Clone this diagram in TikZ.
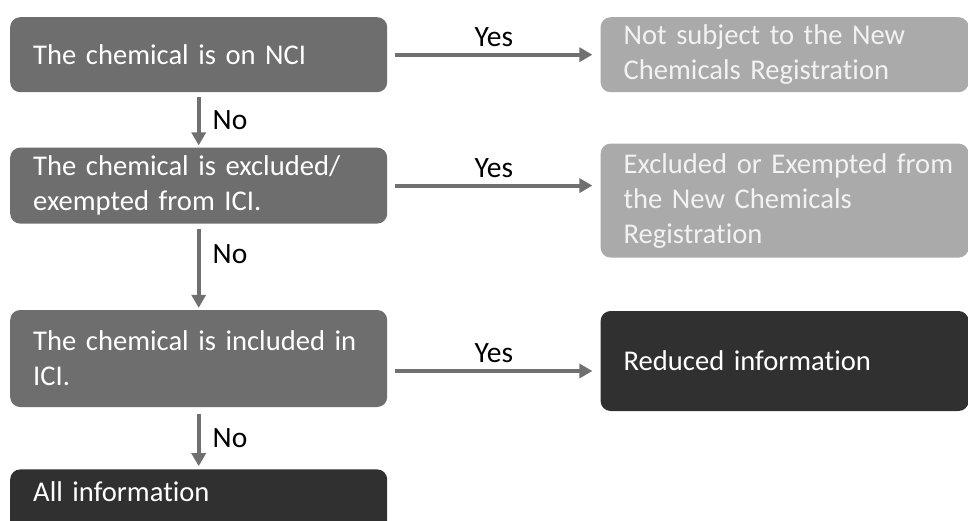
\documentclass[tikz,border=0pt]{standalone}
\usepackage{fontspec}
\setmainfont{Carlito}[Ligatures=NoCommon]
\usetikzlibrary{positioning,arrows.meta}
\definecolor{boxmid}{HTML}{6E6E6E}
\definecolor{boxlight}{HTML}{AAAAAA}
\definecolor{boxdark}{HTML}{303030}
\definecolor{arrowgray}{HTML}{707070}

\begin{document}
\begin{tikzpicture}[x=1pt,y=-1pt,
  box/.style={rectangle,rounded corners=10pt,text=white,align=left,text width=331pt,inner xsep=23pt,inner ysep=0pt,font=\fontsize{28.6}{35}\selectfont},
  midbox/.style={box,fill=boxmid},
  lightbox/.style={box,fill=boxlight,text=white!95!black,text width=322pt},
  darkbox/.style={box,fill=boxdark},
  flow/.style={draw=arrowgray,line width=4pt,-{Triangle[length=13pt,width=14pt]}},
  lbl/.style={font=\fontsize{29.5}{34}\selectfont,inner sep=0pt}]
  \clip (0,0) rectangle (968,520);
  \node (nci) [midbox,minimum height=75pt,anchor=north west] at (10,17) {The chemical is on NCI};
  \node (excl) [midbox,minimum height=76pt,below=55pt of nci] {The chemical is excluded/\\exempted from ICI.};
  \node (incl) [midbox,minimum height=97pt,below=86pt of excl] {\mbox{The chemical is included in}\\ICI.};
  \node (allinfo) [darkbox,inner ysep=12pt,text depth=25pt,below=62pt of incl] {All information};
  \node (notsub) [lightbox,minimum height=75pt,right=213pt of nci] {Not subject to the New\\Chemicals Registration};
  \node (exempt) [lightbox,minimum height=114pt,right=213pt of excl.north east,anchor=north west,yshift=4pt] {\mbox{Excluded or Exempted from}\\the New Chemicals\\Registration};
  \node (reduced) [darkbox,text width=322pt,minimum height=100pt,right=213pt of incl.north east,anchor=north west,yshift=-1pt] {Reduced information};
  \draw[flow,shorten <=5pt,shorten >=2pt] (nci) -- node[lbl,right=12pt] {No} (excl);
  \draw[flow,shorten <=5pt,shorten >=2pt] (excl) -- node[lbl,right=12pt,pos=0.35] {No} (incl);
  \draw[flow,shorten <=7pt,shorten >=3pt] (incl) -- node[lbl,right=12pt] {No} (allinfo);
  \draw[flow,shorten <=8pt,shorten >=8pt] (nci) -- node[lbl,above=6pt] {Yes} (notsub);
  \draw[flow,shorten <=8pt,shorten >=8pt] (excl.east) -- node[lbl,above=6pt] {Yes} (excl.east -| exempt.west);
  \draw[flow,shorten <=8pt,shorten >=8pt] ([yshift=-12.5pt]incl.east) -- node[lbl,above=6pt] {Yes} ([yshift=-12.5pt]incl.east -| reduced.west);
\end{tikzpicture}
\end{document}
